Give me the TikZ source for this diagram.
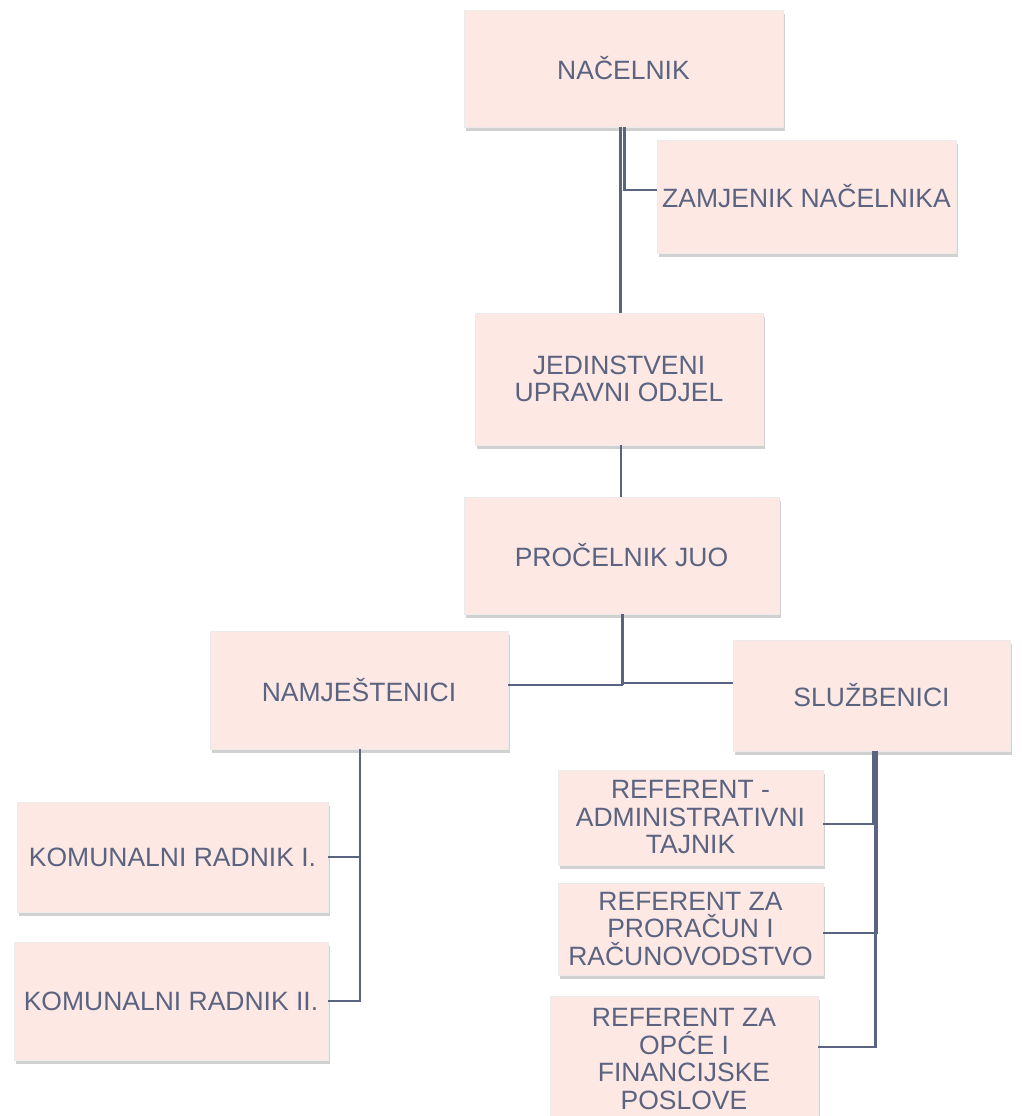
\documentclass[tikz,border=0pt]{standalone}
\usepackage{fontspec}
\setmainfont{Liberation Sans}
\usetikzlibrary{shadows}
\definecolor{boxfill}{HTML}{FDE8E4}
\definecolor{ink}{HTML}{5A6380}
\tikzset{
  orgbox/.style={rectangle, fill=boxfill, draw=black!8, line width=0.8pt, inner sep=0pt,
    align=center, text=ink, font=\fontsize{26.5}{27.5}\selectfont,
    drop shadow={shadow xshift=1.5pt, shadow yshift=-4pt, opacity=0.3, fill=black!60}},
  link/.style={draw=ink, line width=2.1pt}
}
\begin{document}
\begin{tikzpicture}[x=1pt,y=-1pt]
\useasboundingbox (0,0) rectangle (1022,1116);
\node[orgbox, minimum width=319, minimum height=117] (nac) at (623.5,68.5) {NAČELNIK};
\node[orgbox, minimum width=299, minimum height=113] (zam) at (806.5,196.5) {ZAMJENIK NAČELNIKA};
\node[orgbox, minimum width=288, minimum height=132] (jed) at (619,379) {JEDINSTVENI\\UPRAVNI ODJEL};
\node[orgbox, minimum width=315, minimum height=117] (pro) at (621.5,555.5) {PROČELNIK JUO};
\node[orgbox, minimum width=298, minimum height=118] (nam) at (359,690) {NAMJEŠTENICI};
\node[orgbox, minimum width=277, minimum height=111] (slu) at (871.5,695.5) {SLUŽBENICI};
\node[orgbox, minimum width=311, minimum height=110] (k1) at (172.5,857) {KOMUNALNI RADNIK I.};
\node[orgbox, minimum width=314, minimum height=118] (k2) at (171,1001) {KOMUNALNI RADNIK II.};
\node[orgbox, minimum width=265, minimum height=95] (r1) at (690.5,817.5) {REFERENT -\\ADMINISTRATIVNI\\TAJNIK};
\node[orgbox, minimum width=265, minimum height=92] (r2) at (690.5,929) {REFERENT ZA\\PRORAČUN I\\RAČUNOVODSTVO};
\node[orgbox, minimum width=268, minimum height=126] (r3) at (684,1059) {REFERENT ZA\\OPĆE I\\FINANCIJSKE\\POSLOVE};
% connectors
\draw[link] ([xshift=-3pt]nac.south) -- ([xshift=-3pt]nac.south |- jed.north);
\draw[link] ([xshift=1pt]nac.south) |- ([yshift=6.5pt]zam.west);
\draw[link] ([xshift=2pt]jed.south) -- ([xshift=2pt]jed.south |- pro.north);
\coordinate (pj) at ([yshift=-70pt]pro.south);
\draw[link] ([xshift=1pt]pro.south) -- ([xshift=1pt,yshift=-1pt]pj);
\draw[link] ([xshift=1pt,yshift=-1pt]pj) -- ([yshift=-1pt]pj -| nam.east);
\draw[link] ([xshift=1pt,yshift=1pt]pj) -- ([yshift=1pt]pj -| slu.west);
\draw[link] ([xshift=1pt]nam.south) |- (k1.east);
\draw[link] ([xshift=1pt]nam.south) |- (k2.east);
\draw[link] ([xshift=1.5pt]slu.south) |- ([yshift=-6.5pt]r1.east);
\draw[link] ([xshift=5pt]slu.south) |- ([yshift=-4pt]r2.east);
\draw[link] ([xshift=4pt]slu.south) |- ([yshift=12pt]r3.east);
\end{tikzpicture}
\end{document}
